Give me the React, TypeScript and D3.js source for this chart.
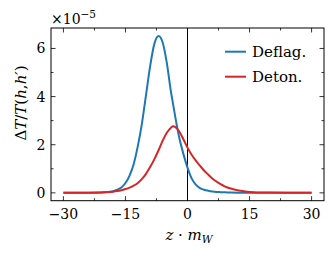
import * as d3 from "d3";

// z * m_W sample points
const zValues = [
  -30, -25, -22, -20, -18, -17, -16, -15, -14, -13, -12, -11, -10, -9, -8, -7, -6, -5, -4, -3.5, -3, -2, -1,
  0, 1, 2, 3, 4, 5, 6, 7, 8, 9, 10, 12, 14, 16, 20, 25, 30,
];

// Delta T / T (h, h'), units of 1e-5
const deflag = [
  0, 0.002, 0.008, 0.025, 0.07, 0.13, 0.22, 0.41, 0.72, 1.2, 1.95, 2.9, 4.1, 5.3, 6.2, 6.52, 6.25, 5.4, 4.2, 3.7, 3.2, 2.3, 1.62,
  1.05, 0.6, 0.34, 0.2, 0.13, 0.09, 0.06, 0.04, 0.03, 0.02, 0.015, 0.008, 0.004, 0.002, 0.001, 0, 0,
];

const deton = [
  0, 0.004, 0.012, 0.025, 0.05, 0.075, 0.11, 0.16, 0.22, 0.3, 0.41, 0.58, 0.8, 1.08, 1.4, 1.77, 2.17, 2.5, 2.71, 2.77, 2.74, 2.55, 2.23,
  1.88, 1.58, 1.34, 1.13, 0.93, 0.76, 0.6, 0.47, 0.36, 0.27, 0.2, 0.11, 0.06, 0.03, 0.01, 0.003, 0,
];

const seriesNames = ["Deflag.", "Deton."];
const seriesColors = ["#1f77b4", "#d62728"];

const xTicks = [-30, -15, 0, 15, 30];
const xMinorTicks = [-30, -22.5, -15, -7.5, 0, 7.5, 15, 22.5, 30];
const yTicks = [0, 2, 4, 6];
const yMinorTicks = [0, 1, 2, 3, 4, 5, 6];

const W = 336;
const H = 257;
const left = 51;
const right = 324;
const top = 28;
const bottom = 200.7;
const font = '"DejaVu Serif", "Liberation Serif", serif';

export default function App() {
  const x = d3.scaleLinear().domain([-33, 33]).range([left, right]);
  const y = d3.scaleLinear().domain([-0.326, 6.85]).range([bottom, top]);

  const line = d3
    .line<number>()
    .x((_, i) => x(zValues[i]))
    .y((d) => y(d))
    .curve(d3.curveMonotoneX);

  const series = [deflag, deton];
  const fmt = (v: number) => (v < 0 ? "\u2212" + Math.abs(v) : String(v));

  return (
    <svg
      width={W}
      height={H}
      style={{ position: "absolute", left: 0, top: 0, background: "white", fontFamily: font }}
    >
      {/* zero line */}
      <line x1={x(0)} x2={x(0)} y1={top} y2={bottom} stroke="black" strokeWidth={1} />

      {series.map((s, i) => (
        <path key={i} d={line(s) ?? ""} fill="none" stroke={seriesColors[i]} strokeWidth={2} />
      ))}

      {/* ticks, inward on all four sides */}
      {xMinorTicks.map((t) => {
        const major = xTicks.includes(t);
        const len = major ? 4.5 : 2.5;
        return (
          <g key={"xt" + t} stroke="black" strokeWidth={0.8}>
            <line x1={x(t)} x2={x(t)} y1={bottom} y2={bottom - len} />
            <line x1={x(t)} x2={x(t)} y1={top} y2={top + len} />
          </g>
        );
      })}
      {yMinorTicks.map((t) => {
        const major = yTicks.includes(t);
        const len = major ? 4.5 : 2.5;
        return (
          <g key={"yt" + t} stroke="black" strokeWidth={0.8}>
            <line x1={left} x2={left + len} y1={y(t)} y2={y(t)} />
            <line x1={right} x2={right - len} y1={y(t)} y2={y(t)} />
          </g>
        );
      })}

      <rect x={left} y={top} width={right - left} height={bottom - top} fill="none" stroke="black" strokeWidth={1} />

      {xTicks.map((t) => (
        <text key={"xl" + t} x={x(t)} y={219.3} textAnchor="middle" fontSize={14} style={{ fontFamily: font }}>
          {fmt(t)}
        </text>
      ))}
      {yTicks.map((t) => (
        <text key={"yl" + t} x={45.5} y={y(t) + 5} textAnchor="end" fontSize={14} style={{ fontFamily: font }}>
          {fmt(t)}
        </text>
      ))}

      {/* offset text */}
      <text x={51} y={23.5} fontSize={14} style={{ fontFamily: font }}>
        ×10
        <tspan dy={-6} fontSize={10.5}>
          −5
        </tspan>
      </text>

      {/* axis labels */}
      <text x={189} y={240} textAnchor="middle" fontSize={15} style={{ fontFamily: font }}>
        <tspan fontStyle="italic">z</tspan>
        <tspan> · </tspan>
        <tspan fontStyle="italic">m</tspan>
        <tspan fontStyle="italic" fontSize={10.5} dy={3}>
          W
        </tspan>
      </text>
      <text transform="translate(26,103) rotate(-90)" textAnchor="middle" fontSize={15} style={{ fontFamily: font }}>
        <tspan>Δ</tspan>
        <tspan fontStyle="italic">T</tspan>
        <tspan>/</tspan>
        <tspan fontStyle="italic">T</tspan>
        <tspan>(</tspan>
        <tspan fontStyle="italic">h</tspan>
        <tspan>,</tspan>
        <tspan fontStyle="italic">h′</tspan>
        <tspan>)</tspan>
      </text>

      {/* legend */}
      {seriesNames.map((name, i) => (
        <g key={name}>
          <line x1={225} x2={246} y1={51.7 + i * 25} y2={51.7 + i * 25} stroke={seriesColors[i]} strokeWidth={2} />
          <text x={252} y={57 + i * 25} fontSize={15} style={{ fontFamily: font }}>
            {name}
          </text>
        </g>
      ))}
    </svg>
  );
}
